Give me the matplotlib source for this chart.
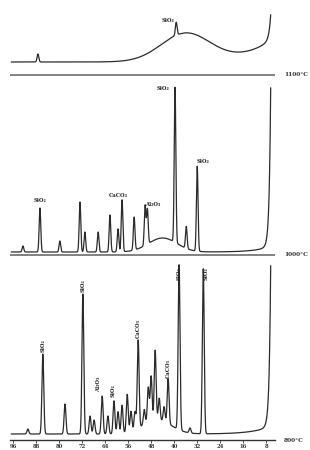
import numpy as np
import matplotlib
matplotlib.use("Agg")
import matplotlib.pyplot as plt

# ---------------- data (2-theta in degrees, intensities in arbitrary units) ----------------
tick_values = [96, 88, 80, 72, 64, 56, 48, 40, 32, 24, 16, 8]
temps = ["1100°C", "1000°C", "800°C"]

# 1100 °C : amorphous pattern
top_base = 13
top_hump = (36.0, 28, 8.5)          # centre, amplitude, width
top_rise = (22, 10.0, 25, 0.6)      # broad amp, broad width, steep amp, steep width
top_peak_pos = [87.3, 39.3]
top_peak_amp = [8, 13]

# 1000 °C
mid_base = 3
mid_hump = (44.0, 14, 5.0)
mid_rise = (6, 5.0, 158, 0.5)
mid_peak_pos = [92.5, 86.6, 79.7, 72.7, 71.0, 66.4, 62.3, 59.5, 58.1, 53.9, 50.1, 49.3,
                39.7, 35.8, 32.0]
mid_peak_amp = [6, 44, 11, 50, 20, 20, 37, 23, 52, 33, 40, 35, 155, 22, 85]

# 800 °C
bot_base = 6
bot_hump = (46.0, 14, 5.0)
bot_rise = (8, 6.0, 160, 0.5)
bot_peak_pos = [90.8, 85.6, 77.9, 71.7, 69.2, 67.8, 65.0, 63.0, 60.9, 59.5, 58.1, 56.3,
                55.0, 53.6, 52.5, 50.4, 49.0, 48.0, 46.6, 45.2, 43.5, 42.1, 38.3, 34.5, 29.9]
bot_peak_amp = [5, 80, 30, 140, 18, 14, 38, 18, 33, 22, 28, 38,
                20, 18, 88, 15, 35, 45, 70, 22, 15, 45, 165, 5, 165]

# phase labels: (text, 2-theta, intensity)
top_labels = [("SiO₂", 42.1, 52)]
mid_labels = [("SiO₂", 86.6, 52), ("CaCO₃", 59.5, 57), ("Al₂O₃", 47.3, 48),
              ("SiO₂", 43.8, 164), ("SiO₂", 29.9, 91)]
bot_labels = [("SiO₂", 85.6, 88), ("SiO₂", 71.7, 148), ("Al₂O₃", 66.4, 48),
              ("SiO₂", 61.2, 43), ("CaCO₃", 52.5, 102), ("CaCO₃", 42.1, 62),
              ("SiO₂", 38.3, 160), ("SiO₂", 29.0, 160)]

# --------------------------------------------------------------------------------------------
x = np.linspace(96.5, 6.5, 5000)


def pattern(base, hump, rise, pos, amp, sig):
    y = np.full_like(x, float(base))
    hc, ha, hw = hump
    y += ha * np.exp(-0.5 * ((x - hc) / hw) ** 2)
    ra, rw, sa, sw = rise
    y += ra * np.exp(-(x - 6.5) / rw) + sa * np.exp(-(x - 6.5) / sw)
    for p, a in zip(pos, amp):
        y += a * np.exp(-0.5 * ((x - p) / sig) ** 2)
    return y


y_top = pattern(top_base, top_hump, top_rise, top_peak_pos, top_peak_amp, 0.3)
y_mid = pattern(mid_base, mid_hump, mid_rise, mid_peak_pos, mid_peak_amp, 0.28)
y_bot = pattern(bot_base, bot_hump, bot_rise, bot_peak_pos, bot_peak_amp, 0.32)

offsets = [365, 185, 0]

fig = plt.figure(figsize=(3.1, 4.5), dpi=100)
ax = fig.add_axes([10 / 310, 10 / 450, 265 / 310, 440 / 450])
ax.set_xlim(97.0, 5.0)
ax.set_ylim(0, 440)

line_kw = dict(color="#2b2b2b", lw=0.9)
for yy, off in zip([y_top, y_mid, y_bot], offsets):
    ax.plot(x, yy + off, **line_kw)

# separator baselines
for off in offsets[:2]:
    ax.axhline(off, color="#777777", lw=1.3, xmin=0.0, xmax=1.0)

lab_kw = dict(fontsize=3.8, fontweight="bold", family="DejaVu Serif", color="#222222")
for t, px, h in top_labels:
    ax.text(px, h + offsets[0], t, ha="center", va="bottom", **lab_kw)
for t, px, h in mid_labels:
    ax.text(px, h + offsets[1], t, ha="center", va="bottom", **lab_kw)
for t, px, h in bot_labels:
    ax.text(px, h + offsets[2], t, ha="center", va="bottom", rotation=90, **lab_kw)

# temperature labels on the right
for t, off in zip(temps, offsets):
    fig.text(284 / 310, (10 + off) / 450, t, ha="left", va="center",
             fontsize=4.2, fontweight="bold", family="DejaVu Serif", color="#333333")

for s in ["top", "right", "left"]:
    ax.spines[s].set_visible(False)
ax.spines["bottom"].set_color("#333333")
ax.spines["bottom"].set_linewidth(1.0)
ax.set_yticks([])
ax.set_xticks(tick_values)
ax.set_xticklabels([str(v) for v in tick_values], fontsize=3.8, fontweight="bold",
                   family="DejaVu Serif", color="#333333")
ax.tick_params(axis="x", direction="out", length=2, width=0.6, pad=1, colors="#333333")

fig.savefig("out.png", dpi=100)
